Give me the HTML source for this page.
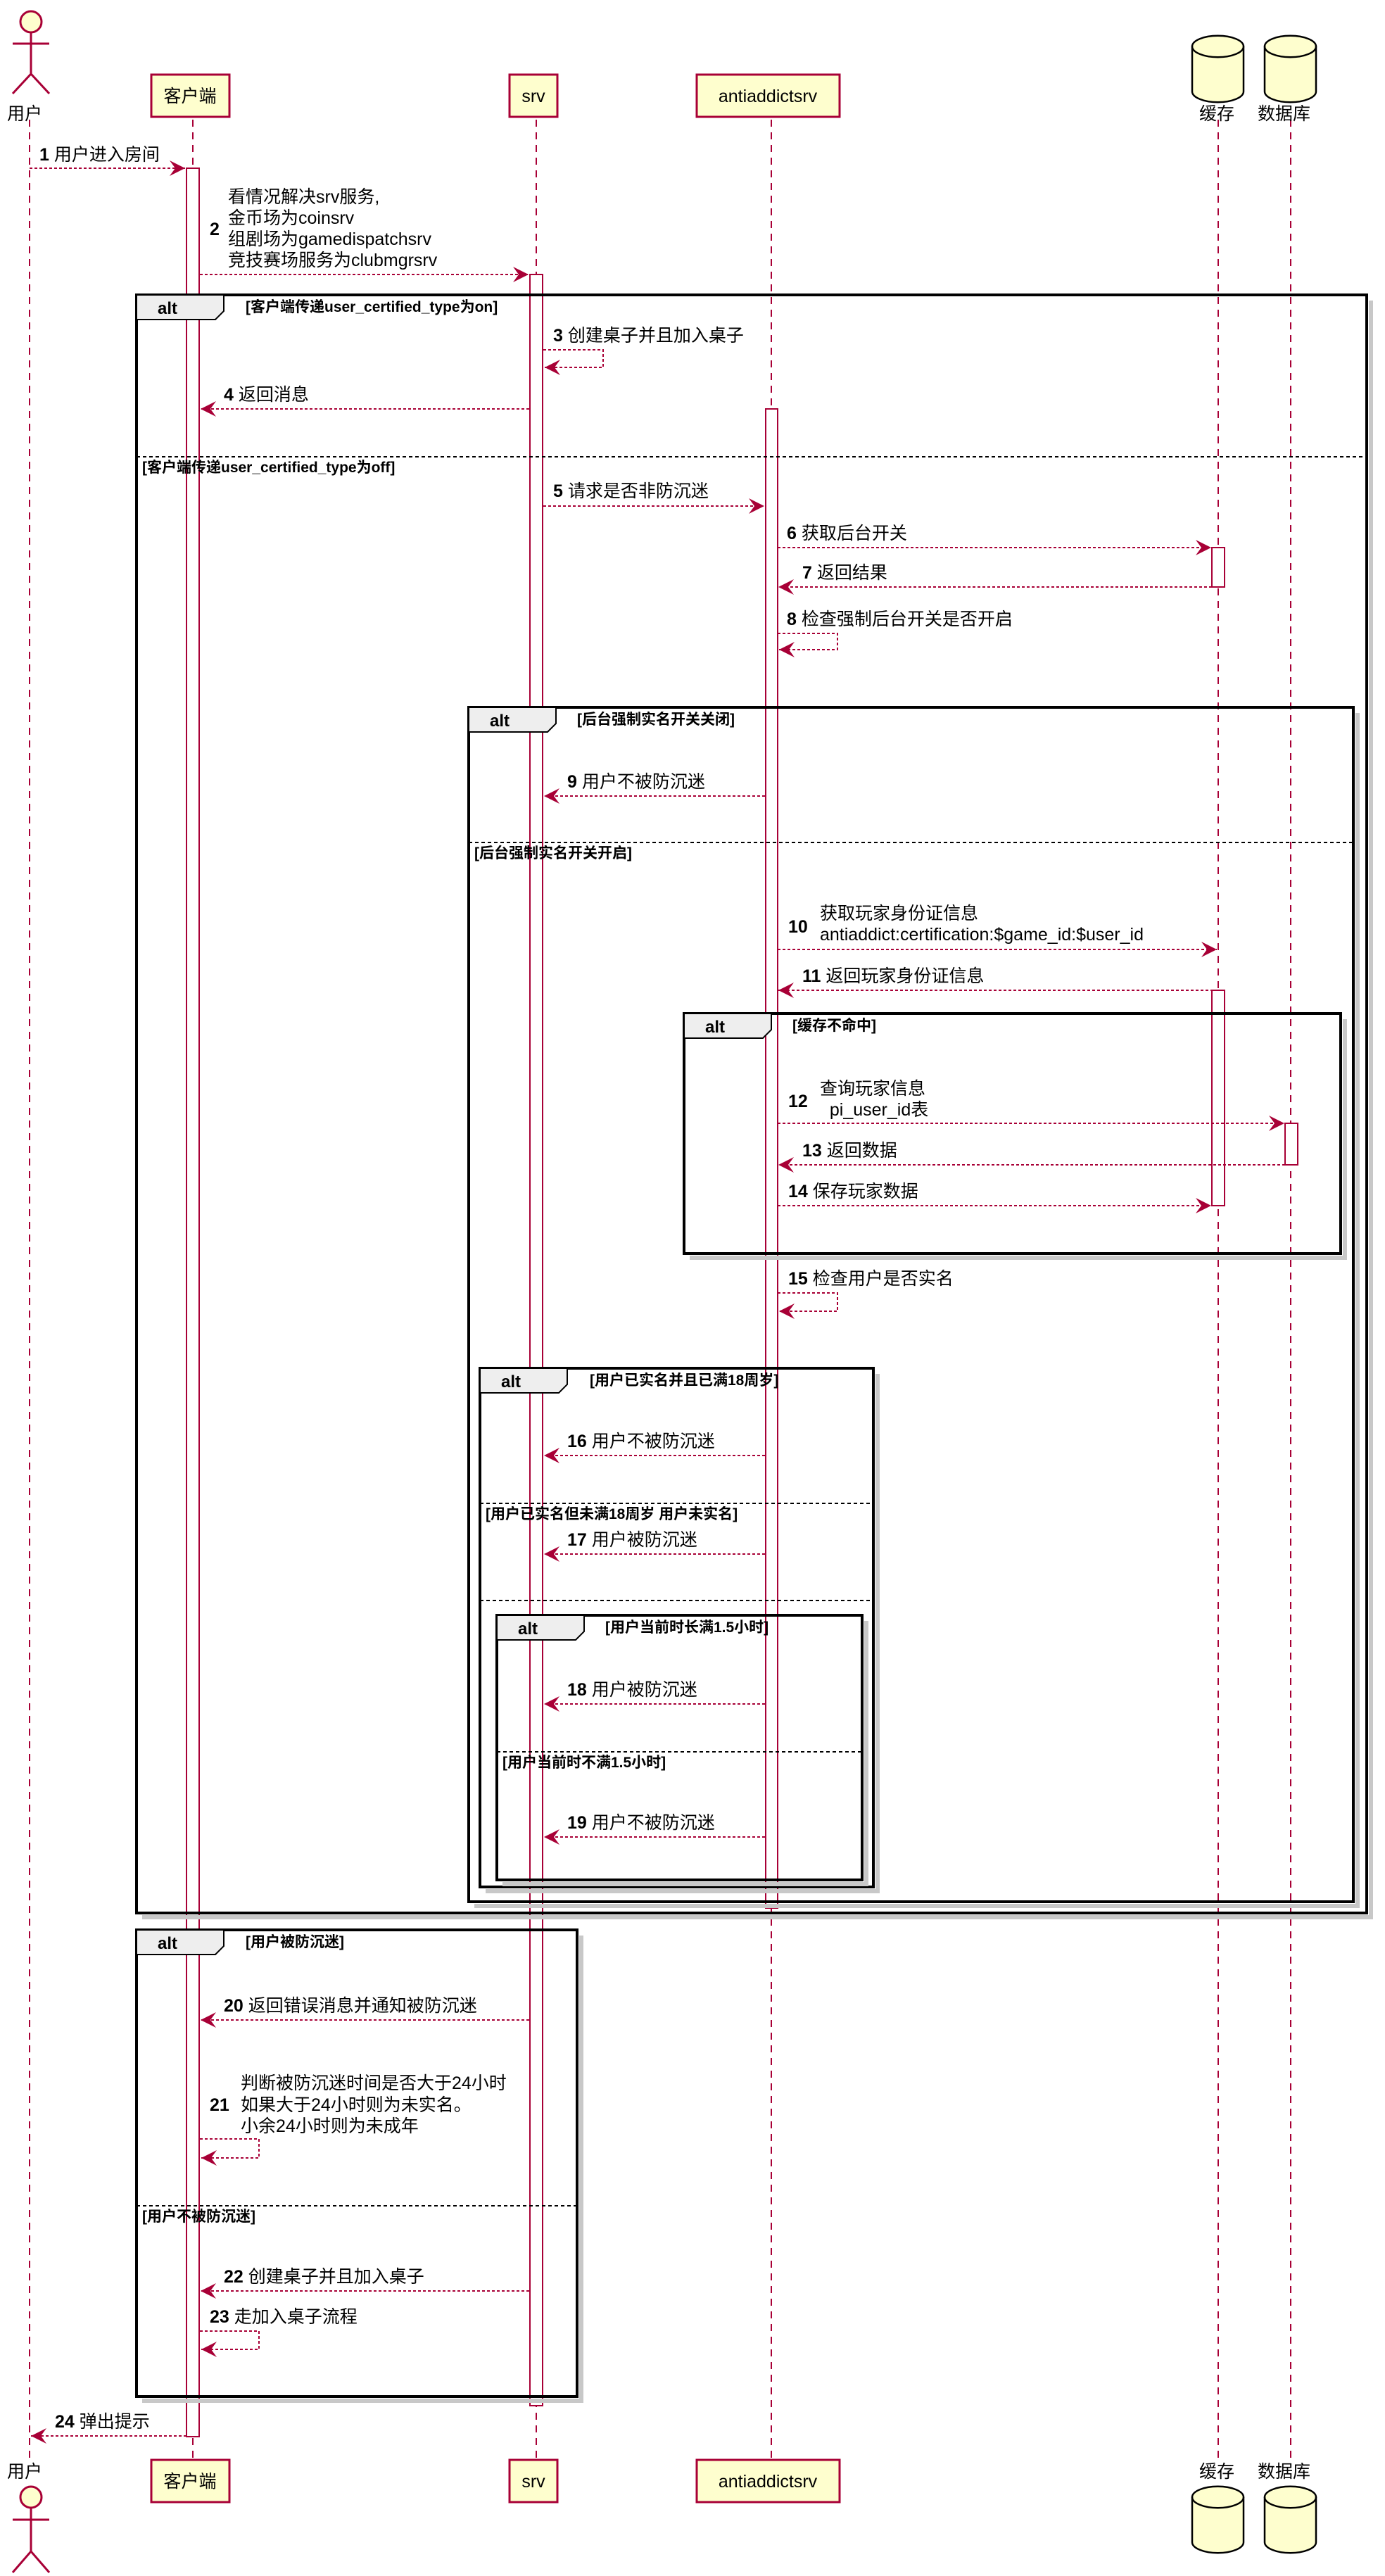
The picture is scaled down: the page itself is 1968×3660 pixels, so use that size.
<!DOCTYPE html>
<html><head><meta charset="utf-8"><style>
html,body{margin:0;padding:0;background:#fff}
svg{display:block}
text{font-family:"Liberation Sans","Noto Sans CJK SC",sans-serif;fill:#000}
.m{font-size:25px}
.b{font-weight:bold}
.c{font-size:21px;font-weight:bold}
.ll{stroke:#A80036;stroke-width:2;stroke-dasharray:10,8;fill:none}
.ar{stroke:#A80036;stroke-width:2;stroke-dasharray:4,3;fill:none}
.act{fill:#fff;stroke:#A80036;stroke-width:2}
.box{fill:#FEFECE;stroke:#A80036;stroke-width:3}
.fr{fill:none;stroke:#000;stroke-width:4}
.sh{fill:none;stroke:#c8c8c8;stroke-width:6}
.sep{stroke:#000;stroke-width:2;stroke-dasharray:5,4}
.tab{fill:#EEEEEE;stroke:#000;stroke-width:2}
</style></head><body>
<svg width="1968" height="3660" viewBox="0 0 1968 3660" xmlns="http://www.w3.org/2000/svg">
<defs>
<marker id="h" markerUnits="userSpaceOnUse" markerWidth="24" markerHeight="22" refX="22" refY="11" orient="auto">
<path d="M0,0 L22,11 L0,22 L8,11 Z" fill="#A80036"/>
</marker>
</defs>
<!-- lifelines -->
<line class="ll" x1="42" y1="170" x2="42" y2="3495"/>
<line class="ll" x1="274" y1="170" x2="274" y2="3495"/>
<line class="ll" x1="762" y1="170" x2="762" y2="3495"/>
<line class="ll" x1="1096" y1="170" x2="1096" y2="3495"/>
<line class="ll" x1="1731" y1="170" x2="1731" y2="3495"/>
<line class="ll" x1="1834" y1="170" x2="1834" y2="3495"/>

<!-- activations -->
<rect class="act" x="265" y="239" width="18" height="3223"/>
<rect class="act" x="753" y="390" width="18" height="3028"/>
<rect class="act" x="1088" y="581" width="17" height="2130"/>
<rect class="act" x="1722" y="778" width="18" height="56"/>
<rect class="act" x="1722" y="1407" width="18" height="306"/>
<rect class="act" x="1826" y="1596" width="18" height="59"/>

<!-- frames -->
<polyline class="sh" points="1948,427 1948,2724 202,2724"/>
<rect class="fr" x="194" y="419" width="1748" height="2299"/>
<polygon class="tab" points="194,419 318,419 318,442 306,454 194,454"/>
<text x="224" y="446" class="b" style="font-size:24px">alt</text>
<text x="349" y="443" class="c">[客户端传递user_certified_type为on]</text>
<line class="sep" x1="194" y1="649" x2="1942" y2="649"/>
<text x="202" y="671" class="c">[客户端传递user_certified_type为off]</text>

<polyline class="sh" points="1929,1013 1929,2708 674,2708"/>
<rect class="fr" x="666" y="1005" width="1257" height="1697"/>
<polygon class="tab" points="666,1005 790,1005 790,1028 778,1040 666,1040"/>
<text x="696" y="1032" class="b" style="font-size:24px">alt</text>
<text x="820" y="1029" class="c">[后台强制实名开关关闭]</text>
<line class="sep" x1="666" y1="1197" x2="1923" y2="1197"/>
<text x="674" y="1219" class="c">[后台强制实名开关开启]</text>

<polyline class="sh" points="1911,1448 1911,1787 980,1787"/>
<rect class="fr" x="972" y="1440" width="933" height="341"/>
<polygon class="tab" points="972,1440 1096,1440 1096,1463 1084,1475 972,1475"/>
<text x="1002" y="1467" class="b" style="font-size:24px">alt</text>
<text x="1126" y="1464" class="c">[缓存不命中]</text>

<polyline class="sh" points="1247,1952 1247,2687 690,2687"/>
<rect class="fr" x="682" y="1944" width="559" height="737"/>
<polygon class="tab" points="682,1944 806,1944 806,1967 794,1979 682,1979"/>
<text x="712" y="1971" class="b" style="font-size:24px">alt</text>
<text x="838" y="1968" class="c">[用户已实名并且已满18周岁]</text>
<line class="sep" x1="682" y1="2136" x2="1241" y2="2136"/>
<text x="690" y="2158" class="c">[用户已实名但未满18周岁 用户未实名]</text>
<line class="sep" x1="682" y1="2274" x2="1241" y2="2274"/>

<polyline class="sh" points="1231,2303 1231,2677 714,2677"/>
<rect class="fr" x="706" y="2295" width="519" height="376"/>
<polygon class="tab" points="706,2295 830,2295 830,2318 818,2330 706,2330"/>
<text x="736" y="2322" class="b" style="font-size:24px">alt</text>
<text x="860" y="2319" class="c">[用户当前时长满1.5小时]</text>
<line class="sep" x1="706" y1="2489" x2="1225" y2="2489"/>
<text x="714" y="2511" class="c">[用户当前时不满1.5小时]</text>

<polyline class="sh" points="826,2750 826,3411 202,3411"/>
<rect class="fr" x="194" y="2742" width="626" height="663"/>
<polygon class="tab" points="194,2742 318,2742 318,2765 306,2777 194,2777"/>
<text x="224" y="2769" class="b" style="font-size:24px">alt</text>
<text x="349" y="2766" class="c">[用户被防沉迷]</text>
<line class="sep" x1="194" y1="3134" x2="820" y2="3134"/>
<text x="202" y="3156" class="c">[用户不被防沉迷]</text>

<!-- messages -->
<line class="ar" x1="42" y1="239" x2="263" y2="239" marker-end="url(#h)"/>
<text x="56" y="228" class="m"><tspan class="b">1</tspan> 用户进入房间</text>

<line class="ar" x1="284" y1="390" x2="751" y2="390" marker-end="url(#h)"/>
<text x="298" y="334" class="m b">2</text>
<text x="324" y="288" class="m">看情况解决srv服务,</text>
<text x="324" y="318" class="m">金币场为coinsrv</text>
<text x="324" y="348" class="m">组剧场为gamedispatchsrv</text>
<text x="324" y="378" class="m">竞技赛场服务为clubmgrsrv</text>

<polyline class="ar" points="772,497 857,497 857,522 774,522" marker-end="url(#h)"/>
<text x="786" y="485" class="m"><tspan class="b">3</tspan> 创建桌子并且加入桌子</text>

<line class="ar" x1="752" y1="581" x2="285" y2="581" marker-end="url(#h)"/>
<text x="318" y="569" class="m"><tspan class="b">4</tspan> 返回消息</text>

<line class="ar" x1="772" y1="719" x2="1086" y2="719" marker-end="url(#h)"/>
<text x="786" y="706" class="m"><tspan class="b">5</tspan> 请求是否非防沉迷</text>

<line class="ar" x1="1105" y1="778" x2="1721" y2="778" marker-end="url(#h)"/>
<text x="1118" y="766" class="m"><tspan class="b">6</tspan> 获取后台开关</text>

<line class="ar" x1="1722" y1="834" x2="1106" y2="834" marker-end="url(#h)"/>
<text x="1140" y="822" class="m"><tspan class="b">7</tspan> 返回结果</text>

<polyline class="ar" points="1105,900 1190,900 1190,923 1107,923" marker-end="url(#h)"/>
<text x="1118" y="888" class="m"><tspan class="b">8</tspan> 检查强制后台开关是否开启</text>

<line class="ar" x1="1087" y1="1131" x2="773" y2="1131" marker-end="url(#h)"/>
<text x="806" y="1119" class="m"><tspan class="b">9</tspan> 用户不被防沉迷</text>

<line class="ar" x1="1105" y1="1349" x2="1729" y2="1349" marker-end="url(#h)"/>
<text x="1120" y="1325" class="m b">10</text>
<text x="1165" y="1306" class="m">获取玩家身份证信息</text>
<text x="1165" y="1336" class="m">antiaddict:certification:$game_id:$user_id</text>

<line class="ar" x1="1731" y1="1407" x2="1106" y2="1407" marker-end="url(#h)"/>
<text x="1140" y="1395" class="m"><tspan class="b">11</tspan> 返回玩家身份证信息</text>

<line class="ar" x1="1105" y1="1596" x2="1825" y2="1596" marker-end="url(#h)"/>
<text x="1120" y="1573" class="m b">12</text>
<text x="1165" y="1555" class="m">查询玩家信息</text>
<text x="1165" y="1585" class="m" xml:space="preserve">  pi_user_id表</text>

<line class="ar" x1="1826" y1="1655" x2="1106" y2="1655" marker-end="url(#h)"/>
<text x="1140" y="1643" class="m"><tspan class="b">13</tspan> 返回数据</text>

<line class="ar" x1="1105" y1="1713" x2="1721" y2="1713" marker-end="url(#h)"/>
<text x="1120" y="1701" class="m"><tspan class="b">14</tspan> 保存玩家数据</text>

<polyline class="ar" points="1105,1837 1190,1837 1190,1863 1107,1863" marker-end="url(#h)"/>
<text x="1120" y="1825" class="m"><tspan class="b">15</tspan> 检查用户是否实名</text>

<line class="ar" x1="1087" y1="2068" x2="773" y2="2068" marker-end="url(#h)"/>
<text x="806" y="2056" class="m"><tspan class="b">16</tspan> 用户不被防沉迷</text>

<line class="ar" x1="1087" y1="2208" x2="773" y2="2208" marker-end="url(#h)"/>
<text x="806" y="2196" class="m"><tspan class="b">17</tspan> 用户被防沉迷</text>

<line class="ar" x1="1087" y1="2421" x2="773" y2="2421" marker-end="url(#h)"/>
<text x="806" y="2409" class="m"><tspan class="b">18</tspan> 用户被防沉迷</text>

<line class="ar" x1="1087" y1="2610" x2="773" y2="2610" marker-end="url(#h)"/>
<text x="806" y="2598" class="m"><tspan class="b">19</tspan> 用户不被防沉迷</text>

<line class="ar" x1="752" y1="2870" x2="285" y2="2870" marker-end="url(#h)"/>
<text x="318" y="2858" class="m"><tspan class="b">20</tspan> 返回错误消息并通知被防沉迷</text>

<polyline class="ar" points="284,3039 368,3039 368,3066 286,3066" marker-end="url(#h)"/>
<text x="298" y="2999" class="m b">21</text>
<text x="342" y="2968" class="m">判断被防沉迷时间是否大于24小时</text>
<text x="342" y="2999" class="m">如果大于24小时则为未实名。</text>
<text x="342" y="3029" class="m">小余24小时则为未成年</text>

<line class="ar" x1="752" y1="3255" x2="285" y2="3255" marker-end="url(#h)"/>
<text x="318" y="3243" class="m"><tspan class="b">22</tspan> 创建桌子并且加入桌子</text>

<polyline class="ar" points="284,3312 368,3312 368,3338 286,3338" marker-end="url(#h)"/>
<text x="298" y="3300" class="m"><tspan class="b">23</tspan> 走加入桌子流程</text>

<line class="ar" x1="265" y1="3461" x2="44" y2="3461" marker-end="url(#h)"/>
<text x="78" y="3449" class="m"><tspan class="b">24</tspan> 弹出提示</text>

<!-- participants top -->
<circle cx="44" cy="31" r="15" fill="#FEFECE" stroke="#A80036" stroke-width="3"/>
<line x1="44" y1="46" x2="44" y2="105" stroke="#A80036" stroke-width="3"/>
<line x1="18" y1="62" x2="70" y2="62" stroke="#A80036" stroke-width="3"/>
<polyline points="18,133 44,105 70,133" fill="none" stroke="#A80036" stroke-width="3"/>
<text x="10" y="170" class="m">用户</text>
<rect class="box" x="215" y="106" width="111" height="60"/>
<text x="270" y="145" class="m" text-anchor="middle">客户端</text>
<rect class="box" x="724" y="106" width="68" height="60"/>
<text x="758" y="145" class="m" text-anchor="middle">srv</text>
<rect class="box" x="990" y="106" width="203" height="60"/>
<text x="1091" y="145" class="m" text-anchor="middle">antiaddictsrv</text>
<g fill="#FEFECE" stroke="#000" stroke-width="2.5">
<path d="M1694,66 A36,15 0 0 1 1767,66 L1767,130 A36,15 0 0 1 1694,130 Z"/>
<path d="M1694,66 A36,15 0 0 0 1767,66" fill="none"/>
<path d="M1797,66 A36,15 0 0 1 1870,66 L1870,130 A36,15 0 0 1 1797,130 Z"/>
<path d="M1797,66 A36,15 0 0 0 1870,66" fill="none"/>
</g>
<text x="1704" y="170" class="m">缓存</text>
<text x="1787" y="170" class="m">数据库</text>

<!-- participants bottom -->
<text x="10" y="3520" class="m">用户</text>
<circle cx="44" cy="3548" r="15" fill="#FEFECE" stroke="#A80036" stroke-width="3"/>
<line x1="44" y1="3563" x2="44" y2="3625" stroke="#A80036" stroke-width="3"/>
<line x1="18" y1="3580" x2="70" y2="3580" stroke="#A80036" stroke-width="3"/>
<polyline points="18,3655 44,3625 70,3655" fill="none" stroke="#A80036" stroke-width="3"/>
<rect class="box" x="215" y="3495" width="111" height="60"/>
<text x="270" y="3534" class="m" text-anchor="middle">客户端</text>
<rect class="box" x="724" y="3495" width="68" height="60"/>
<text x="758" y="3534" class="m" text-anchor="middle">srv</text>
<rect class="box" x="990" y="3495" width="203" height="60"/>
<text x="1091" y="3534" class="m" text-anchor="middle">antiaddictsrv</text>
<text x="1704" y="3520" class="m">缓存</text>
<text x="1787" y="3520" class="m">数据库</text>
<g fill="#FEFECE" stroke="#000" stroke-width="2.5">
<path d="M1694,3548 A36,15 0 0 1 1767,3548 L1767,3612 A36,15 0 0 1 1694,3612 Z"/>
<path d="M1694,3548 A36,15 0 0 0 1767,3548" fill="none"/>
<path d="M1797,3548 A36,15 0 0 1 1870,3548 L1870,3612 A36,15 0 0 1 1797,3612 Z"/>
<path d="M1797,3548 A36,15 0 0 0 1870,3548" fill="none"/>
</g>
</svg>
</body></html>
